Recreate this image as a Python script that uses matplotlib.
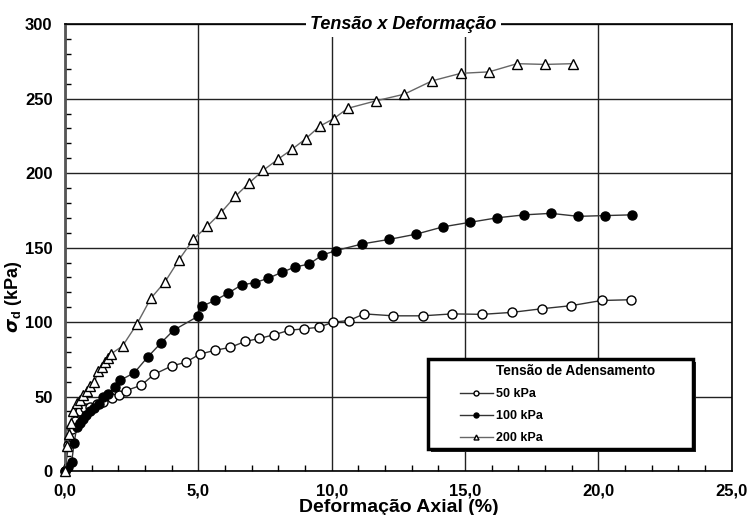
import numpy as np
import matplotlib
matplotlib.use('Agg')
import matplotlib.pyplot as plt
from matplotlib.patches import Rectangle
from matplotlib.ticker import MultipleLocator, FuncFormatter

plt.rcParams['font.family'] = ['Liberation Sans', 'DejaVu Sans']
plt.rcParams['font.weight'] = 'bold'

# Data (deformação axial %, sigma_d kPa)
x_50 = [0, 0.13, 0.25, 0.38, 0.56, 0.75, 0.94, 1.19, 1.44, 1.75, 2.04, 2.29, 2.85,
        3.35, 4.0, 4.52, 5.06, 5.61, 6.19, 6.76, 7.29, 7.84, 8.41, 8.97, 9.52, 10.06,
        10.64, 11.22, 12.31, 13.41, 14.52, 15.65, 16.75, 17.9, 18.97, 20.12, 21.22]
y_50 = [0, 17.5, 28.5, 33.5, 40, 42, 43, 45, 46.5, 49, 51, 54, 57.5,
        65, 70.5, 73, 78.5, 81, 83, 87, 89, 91.5, 94.5, 95.5, 96.5, 100,
        101, 105.5, 104.2, 104.2, 105.5, 105.2, 106.5, 109, 111, 114.5, 115]

x_100 = [0, 0.13, 0.25, 0.34, 0.44, 0.56, 0.66, 0.79, 0.94, 1.09, 1.26, 1.44, 1.62,
         1.87, 2.08, 2.6, 3.1, 3.6, 4.07, 5.0, 5.12, 5.62, 6.12, 6.63, 7.13, 7.63,
         8.14, 8.63, 9.16, 9.65, 10.16, 11.15, 12.15, 13.16, 14.19, 15.19, 16.2,
         17.23, 18.22, 19.25, 20.25, 21.25]
y_100 = [0, 3, 6, 18.5, 29.5, 32, 35, 37.5, 40, 42, 45, 50, 51.5,
         56.5, 61, 66, 76.5, 86, 94.5, 104, 110.5, 114.5, 119.5, 125, 126.5, 129.5,
         133.5, 137, 139, 145, 148, 152.5, 155.5, 159, 164, 167, 170,
         172, 173, 171, 171.5, 172]

x_200 = [0, 0.08, 0.15, 0.22, 0.3, 0.45, 0.56, 0.69, 0.81, 0.94, 1.1, 1.25, 1.37,
         1.5, 1.63, 1.72, 2.16, 2.69, 3.22, 3.75, 4.28, 4.81, 5.34, 5.85, 6.39,
         6.91, 7.44, 8.0, 8.51, 9.02, 9.55, 10.07, 10.6, 11.65, 12.72, 13.77,
         14.84, 15.9, 16.95, 18.0, 19.06]
y_200 = [0, 17, 25, 32, 40, 46, 48, 51, 54, 57, 59.5, 67, 70,
         73, 76, 78.5, 84, 98.5, 116, 127, 142, 155.5, 164.5, 173.5, 184.5,
         193.5, 202, 209.5, 216, 223, 231.5, 236.5, 243.5, 248.5, 253, 262,
         267, 268, 273.5, 273, 273.5]

labels = ['50 kPa', '100 kPa', '200 kPa']

fig = plt.figure(figsize=(7.48, 5.15), dpi=100)
ax = fig.add_axes([0.0869, 0.0854, 0.8913, 0.8676])

# curves
l1, = ax.plot(x_50, y_50, '-o', color='#333333', lw=1, ms=6.5,
              mfc='white', mec='black', mew=1, clip_on=False, zorder=5)
l2, = ax.plot(x_100, y_100, '-o', color='#333333', lw=1, ms=6.5,
              mfc='black', mec='black', mew=1, clip_on=False, zorder=5)
l3, = ax.plot(x_200, y_200, '-^', color='#666666', lw=1, ms=6.5,
              mfc='white', mec='black', mew=1, clip_on=False, zorder=5)

ax.set_xlim(0, 25)
ax.set_ylim(0, 300)
ax.xaxis.set_major_locator(MultipleLocator(5))
ax.xaxis.set_minor_locator(MultipleLocator(1))
ax.yaxis.set_major_locator(MultipleLocator(50))
ax.yaxis.set_minor_locator(MultipleLocator(10))
ax.xaxis.set_major_formatter(FuncFormatter(lambda v, p: f'{v:.1f}'.replace('.', ',')))
ax.tick_params(which='both', direction='in', labelsize=12, pad=9)
ax.tick_params(which='major', length=0)
ax.tick_params(which='minor', length=4, width=1)
for lab in ax.get_xticklabels() + ax.get_yticklabels():
    lab.set_fontweight('bold')

ax.grid(True, which='major', color='#222222', lw=1)
ax.set_axisbelow(True)
for s in ax.spines.values():
    s.set_color('black')
    s.set_linewidth(1.2)
ax.spines['left'].set_color('#555555')
ax.spines['left'].set_linewidth(2)

ax.set_xlabel('Deformação Axial (%)', fontsize=14, fontweight='bold', labelpad=0)
ax.set_ylabel(r'$\sigma_\mathregular{d}$ (kPa)', fontsize=13, fontweight='bold')
ax.yaxis.set_label_coords(-0.062, 0.39)

ax.text(12.7, 300, 'Tensão x Deformação', fontsize=13, fontweight='bold',
        fontstyle='italic', ha='center', va='center', zorder=10,
        bbox=dict(facecolor='white', edgecolor='none', pad=3))

# legend box with shadow
x0, x1, yb, yt = 0.5445, 0.942, 0.049, 0.25
dx, dy = 3 / 666.7, 3 / 447
ax.add_patch(Rectangle((x0 + dx, yb - dy), x1 - x0, yt - yb, transform=ax.transAxes,
                       facecolor='#222222', edgecolor='none', zorder=11))
ax.add_patch(Rectangle((x0, yb), x1 - x0, yt - yb, transform=ax.transAxes,
                       facecolor='white', edgecolor='black', lw=2.5, zorder=12))
ax.text(0.6465, 0.224, 'Tensão de Adensamento', transform=ax.transAxes,
        fontsize=9.8, fontweight='bold', va='center', ha='left', zorder=13)
leg = ax.legend([l1, l2, l3], labels, loc='upper left',
                bbox_to_anchor=(0.5925, 0.185), frameon=False, fontsize=9,
                handlelength=2.6, handletextpad=0.3, labelspacing=0.8,
                borderaxespad=0, borderpad=0, markerscale=0.55)
leg.set_zorder(14)
for t in leg.get_texts():
    t.set_fontweight('bold')

plt.savefig('out.png', dpi=100)
